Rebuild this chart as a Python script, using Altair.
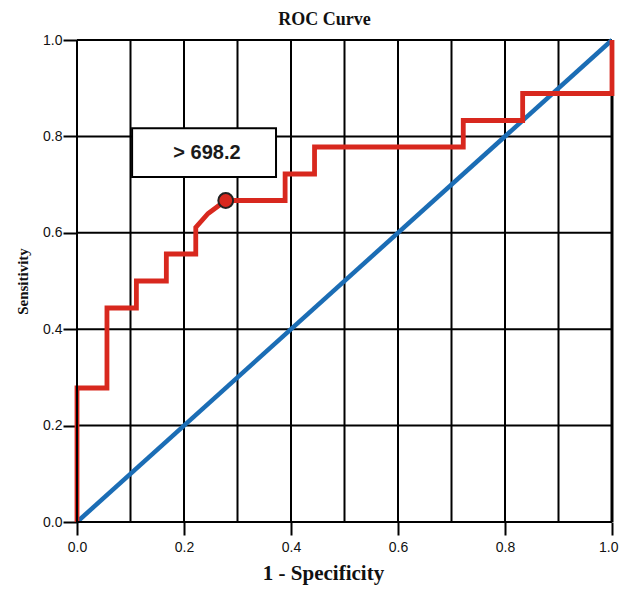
import altair as alt
import pandas as pd

# ROC curve (step path)
roc_fpr = [0.0, 0.0, 0.056, 0.056, 0.111, 0.111, 0.167, 0.167, 0.222, 0.222, 0.245, 0.278,
           0.389, 0.389, 0.444, 0.444, 0.722, 0.722, 0.833, 0.833, 1.0, 1.0]
roc_tpr = [0.0, 0.278, 0.278, 0.444, 0.444, 0.5, 0.5, 0.556, 0.556, 0.611, 0.64, 0.667,
           0.667, 0.722, 0.722, 0.778, 0.778, 0.833, 0.833, 0.889, 0.889, 1.0]
# reference diagonal
diag_fpr = [0.0, 1.0]
diag_tpr = [0.0, 1.0]
# criterion point and label
crit_fpr = [0.278]
crit_tpr = [0.667]
crit_label = ["> 698.2"]
label_box = {"x": [0.103], "x2": [0.372], "y": [0.716], "y2": [0.817]}
label_pos = {"x": [0.243], "y": [0.766]}
# grid
vgrid = [0.1, 0.2, 0.3, 0.4, 0.5, 0.6, 0.7, 0.8, 0.9, 1.0]
vgrid_w = [2, 2, 2, 2, 2, 2, 2, 2, 2, 3]
hgrid = [0.2, 0.4, 0.6, 0.8, 1.0]
ticks = [0.0, 0.2, 0.4, 0.6, 0.8, 1.0]

RED = "#d8281e"
BLUE = "#1b6db5"
SERIF = "Liberation Serif"
SANS = "Liberation Sans"

roc_df = pd.DataFrame({"fpr": roc_fpr, "tpr": roc_tpr, "order": list(range(len(roc_fpr)))})
diag_df = pd.DataFrame({"fpr": diag_fpr, "tpr": diag_tpr})
crit_df = pd.DataFrame({"fpr": crit_fpr, "tpr": crit_tpr})
box_df = pd.DataFrame(label_box)
lab_df = pd.DataFrame({"x": label_pos["x"], "y": label_pos["y"], "t": crit_label})
vg_df = pd.DataFrame({"x": vgrid, "w": vgrid_w})
hg_df = pd.DataFrame({"y": hgrid})

xs = alt.Scale(domain=[0, 1], nice=False, zero=False)
ys = alt.Scale(domain=[0, 1], nice=False, zero=False)

xaxis = alt.Axis(values=ticks, format=".1f", tickSize=13, labelPadding=5,
                 labelAlign={"condition": {"test": "datum.value == 1", "value": "right"},
                             "value": "center"},
                 labelOffset={"condition": {"test": "datum.value == 1", "value": 6},
                              "value": 0},
                 title="1 - Specificity", titleFontSize=21, titlePadding=8, titleX=246)
yaxis = alt.Axis(values=ticks, format=".1f", tickSize=14, labelPadding=1,
                 title="Sensitivity", titleFontSize=15, titlePadding=12)

vgrid_layer = alt.Chart(vg_df).mark_rule(color="black").encode(
    x=alt.X("x:Q", scale=xs, axis=xaxis),
    y=alt.value(0), y2=alt.value(482),
    strokeWidth=alt.StrokeWidth("w:Q", scale=None, legend=None),
)
hgrid_layer = alt.Chart(hg_df).mark_rule(color="black", strokeWidth=2).encode(
    y=alt.Y("y:Q", scale=ys, axis=yaxis),
    x=alt.value(0), x2=alt.value(535),
)
diag_layer = alt.Chart(diag_df).mark_line(color=BLUE, strokeWidth=4.5).encode(
    x=alt.X("fpr:Q", scale=xs, axis=xaxis), y=alt.Y("tpr:Q", scale=ys, axis=yaxis)
)
roc_layer = alt.Chart(roc_df).mark_line(color=RED, strokeWidth=4.8).encode(
    x=alt.X("fpr:Q", scale=xs, axis=xaxis), y=alt.Y("tpr:Q", scale=ys, axis=yaxis),
    order="order:Q"
)
left_axis = alt.Chart(hg_df).mark_rule(color="black", strokeWidth=2).encode(
    x=alt.value(0), y=alt.value(0), y2=alt.value(482)
)
bottom_axis = alt.Chart(hg_df).mark_rule(color="black", strokeWidth=2).encode(
    x=alt.value(0), x2=alt.value(535), y=alt.value(482)
)
box_layer = alt.Chart(box_df).mark_rect(fill="white", stroke="black", strokeWidth=2).encode(
    x=alt.X("x:Q", scale=xs, axis=xaxis), x2="x2:Q",
    y=alt.Y("y:Q", scale=ys, axis=yaxis), y2="y2:Q"
)
text_layer = alt.Chart(lab_df).mark_text(font=SANS, fontSize=20, fontWeight="bold",
                                         color="#1a1a1a").encode(
    x=alt.X("x:Q", scale=xs, axis=xaxis), y=alt.Y("y:Q", scale=ys, axis=yaxis), text="t:N"
)
point_layer = alt.Chart(crit_df).mark_point(shape="circle", filled=True, fill=RED, stroke="#222",
                                            strokeWidth=2, size=220, opacity=1).encode(
    x=alt.X("fpr:Q", scale=xs, axis=xaxis), y=alt.Y("tpr:Q", scale=ys, axis=yaxis)
)

chart = alt.layer(
    vgrid_layer, hgrid_layer, diag_layer, roc_layer, left_axis, bottom_axis,
    box_layer, text_layer, point_layer
).properties(
    width=535, height=482,
    title=alt.TitleParams("ROC Curve", font=SERIF, fontSize=18, fontWeight="bold",
                          color="#111", offset=1, dx=-20, anchor="middle", frame="group"),
    autosize=alt.AutoSizeParams(type="none"),
    padding={"left": 69, "top": 32, "right": 7, "bottom": 66},
).configure_view(stroke=None).configure(background="white").configure_axis(
    grid=False, domain=False, labelFlush=False,
    tickColor="black", tickWidth=2,
    labelFont=SANS, labelFontSize=14, labelColor="#111",
    titleFont=SERIF, titleFontWeight="bold", titleColor="#111",
)

chart.save("out.html", embed_options={"renderer": "svg", "actions": False})
